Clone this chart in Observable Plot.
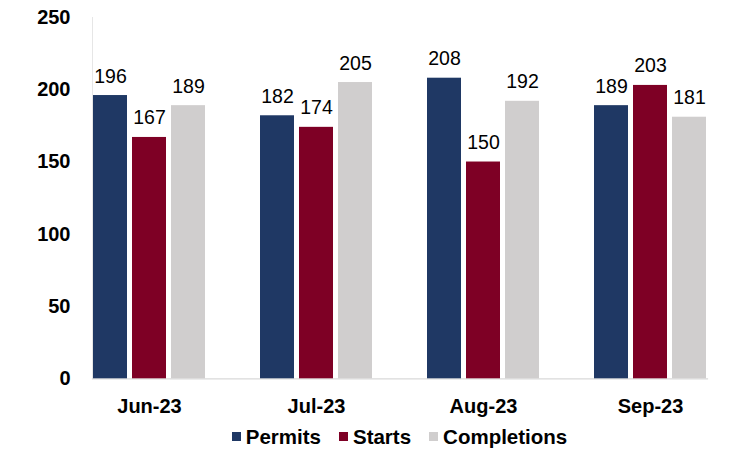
<!DOCTYPE html>
<html>
<head>
<meta charset="utf-8">
<script src="https://cdn.jsdelivr.net/npm/d3@7"></script>
<script src="https://cdn.jsdelivr.net/npm/@observablehq/plot@0.6"></script>
<style>
  html, body { margin: 0; padding: 0; background: #fff; }
  body { width: 734px; height: 453px; overflow: hidden; font-family: "Liberation Sans", Arial, sans-serif; }
  #legend { display: flex; justify-content: center; align-items: center; margin-left: 65px; width: 669px; height: 33px; font-weight: bold; font-size: 20.5px; color: #000; }
  .item { display: flex; align-items: center; margin: 0 9px; }
  .sw { width: 9px; height: 9px; margin-right: 5px; }
</style>
</head>
<body>
<div id="chart"></div>
<div id="legend"></div>
<script>
const months = ["Jun-23", "Jul-23", "Aug-23", "Sep-23"];
const seriesNames = ["Permits", "Starts", "Completions"];
const permits = [196, 182, 208, 189];
const starts = [167, 174, 150, 203];
const completions = [189, 205, 192, 181];
const colors = ["#1F3864", "#7E0025", "#D0CECE"];
const yTicks = [0, 50, 100, 150, 200, 250];

const seriesValues = [permits, starts, completions];
const data = [];
months.forEach((m, i) => {
  seriesNames.forEach((s, j) => {
    data.push({month: m, series: s, value: seriesValues[j][i]});
  });
});

const chart = Plot.plot({
  width: 734,
  height: 420,
  marginLeft: 65,
  marginRight: 0,
  marginTop: 17,
  marginBottom: 41.7,
  style: {fontFamily: "'Liberation Sans', Arial, sans-serif", background: "#fff", color: "#000"},
  fx: {domain: months, paddingInner: 0.32, paddingOuter: 0.16, label: null},
  x: {domain: seriesNames, paddingInner: 0.12, paddingOuter: 0, axis: null},
  y: {domain: [0, 250], ticks: yTicks, label: null},
  color: {domain: seriesNames, range: colors},
  marks: [
    Plot.frame({anchor: "left", stroke: "#E6E6E6", facet: "super"}),
    Plot.frame({anchor: "bottom", stroke: "#D9D9D9", strokeWidth: 1.2, facet: "super"}),
    Plot.barY(data, {fx: "month", x: "series", y: "value", fill: "series"}),
    Plot.text(data, {fx: "month", x: "series", y: "value", text: d => String(d.value), lineAnchor: "bottom", dy: -13, fontSize: 19.5, fill: "#000"}),
    Plot.axisY({ticks: yTicks, tickSize: 0, tickPadding: 22, fontSize: 20, fontWeight: "bold", label: null}),
    Plot.axisFx({anchor: "bottom", tickSize: 0, tickPadding: 20, fontSize: 20, fontWeight: "bold", label: null})
  ]
});
document.getElementById("chart").appendChild(chart);

const legend = document.getElementById("legend");
seriesNames.forEach((s, j) => {
  const it = document.createElement("div");
  it.className = "item";
  const sw = document.createElement("div");
  sw.className = "sw";
  sw.style.background = colors[j];
  const t = document.createElement("span");
  t.textContent = s;
  it.appendChild(sw); it.appendChild(t);
  legend.appendChild(it);
});
</script>
</body>
</html>
